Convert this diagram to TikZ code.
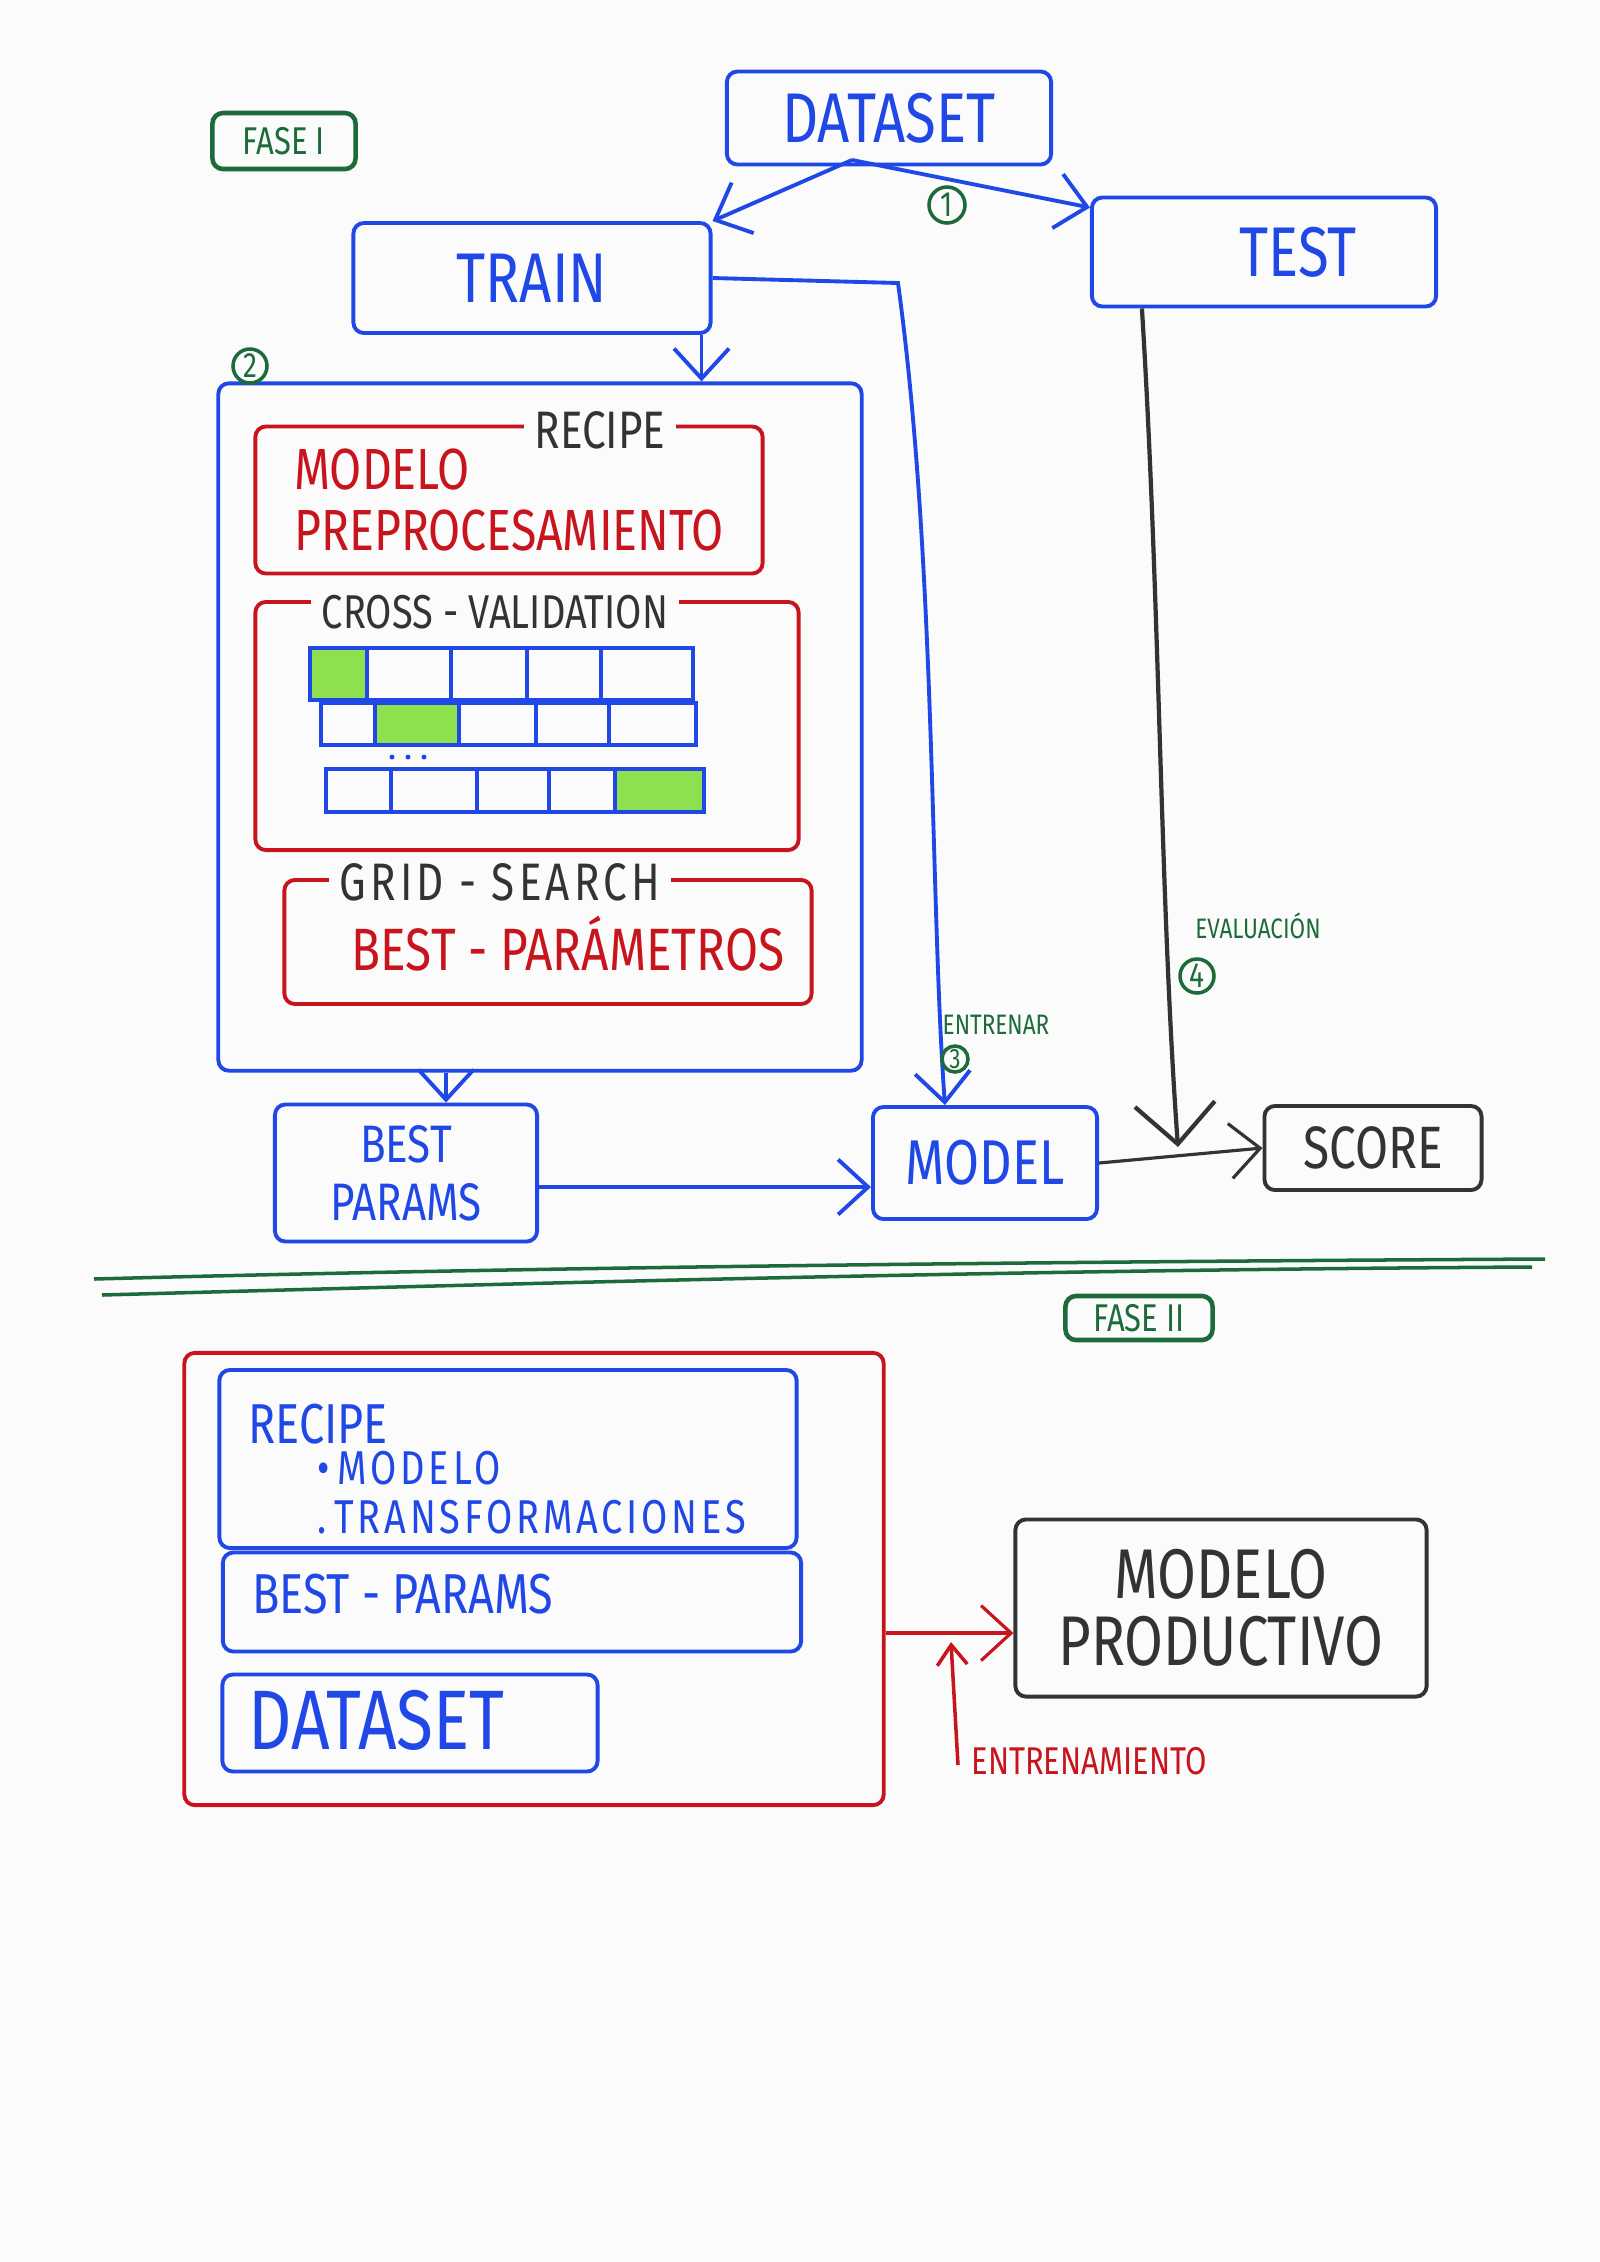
\documentclass[tikz,border=0pt]{standalone}
\usepackage{fontspec}
\setmainfont{Fira Sans}[FakeStretch=0.8]
\usetikzlibrary{arrows.meta}
\definecolor{bg}{HTML}{FBFBFB}
\definecolor{hblue}{HTML}{1F48E6}
\definecolor{hred}{HTML}{C8141C}
\definecolor{hgreen}{HTML}{1D6B3A}
\definecolor{hgray}{HTML}{333333}
\definecolor{hlime}{HTML}{8EE04E}
\newcommand\hfs[1]{\fontsize{#1}{#1}\selectfont}
\begin{document}
\begin{tikzpicture}[x=0.01cm,y=-0.01cm,
  box/.style={draw,line width=1.1pt,rounded corners=3pt,inner sep=0pt},
  bbox/.style={box,draw=hblue,text=hblue},
  rbox/.style={box,draw=hred,text=hred},
  kbox/.style={box,draw=hgray,text=hgray},
  gbox/.style={box,draw=hgreen,text=hgreen,line width=1.3pt},
  lbl/.style={fill=bg,inner sep=3pt},
  arr/.style={-{Straight Barb[length=3mm,width=5.5mm]},line width=1.1pt},
  bigarr/.style={-{Straight Barb[length=4mm,width=8mm]},line width=1.2pt},
  smallarr/.style={-{Straight Barb[length=2mm,width=3mm]},line width=1pt},
  num/.style={circle,draw=hgreen,text=hgreen,line width=1pt,inner sep=0pt},
  foldcell/.style={fill=hlime},
  fold/.style={draw=hblue,line width=1pt}
]
\fill[bg] (0,0) rectangle (1600,2262);

% ---------------- FASE I ----------------
\node[gbox,minimum width=1.43cm,minimum height=0.56cm,font=\hfs{11}] (fase1) at (284,141) {FASE I};

\node[bbox,minimum width=3.24cm,minimum height=0.93cm,font=\hfs{20}] (dataset) at (889,118) {DATASET};
\node[bbox,minimum width=3.57cm,minimum height=1.10cm,font=\hfs{20}] (train) at (532,278) {TRAIN};
\node[bbox,minimum width=3.44cm,minimum height=1.09cm,font=\hfs{20}] (test) at (1264,252) {\hspace*{0.68cm}TEST};

\coordinate (dsplit) at (852,160);
\draw[arr,hblue] (dsplit) -- (train.north east);
\draw[arr,hblue] (dsplit) -- ([yshift=-0.12cm]test.north west);
\node[num,minimum size=0.36cm,font=\hfs{10}] (n1) at (947,205) {1};

% stage 2 container
\node[bbox,minimum width=6.43cm,minimum height=6.87cm] (stage2) at (540,727) {};
\node[num,minimum size=0.34cm,font=\hfs{10}] (n2) at (250,366) {2};
\draw[arr,hblue] ([xshift=-0.11cm]train.south east) -- ([xshift=-0.11cm]train.south east |- stage2.north);

% recipe
\node[rbox,minimum width=5.07cm,minimum height=1.47cm,align=left,font=\fontsize{16.5}{17.5}\selectfont] (recipe) at (509,500) {MODELO\\PREPROCESAMIENTO};
\node[lbl,text=hgray,font=\hfs{15}] (recipelbl) at (600,430) {RECIPE};

% cross validation
\node[rbox,minimum width=5.43cm,minimum height=2.48cm] (cv) at (527,726) {};
\node[lbl,text=hgray,font=\hfs{13.5}] (cvlbl) at (495,612) {CROSS - VALIDATION};

\fill[foldcell] (312,650) rectangle (367,698);
\draw[fold] (310,648) rectangle (693,700);
\foreach \x in {367,451,527,601} \draw[fold] (\x,650) -- (\x,698);

\fill[foldcell] (375,705) rectangle (459,743);
\draw[fold] (321,703) rectangle (696,745);
\foreach \x in {375,459,536,609} \draw[fold] (\x,705) -- (\x,743);

\foreach \x in {392,408,424} \fill[hblue] (\x,757) circle (2.5);

\fill[foldcell] (615,771) rectangle (702,810);
\draw[fold] (326,769) rectangle (704,812);
\foreach \x in {391,477,549,615} \draw[fold] (\x,771) -- (\x,810);

% grid search
\node[rbox,minimum width=5.27cm,minimum height=1.24cm] (grid) at (548,942) {};
\node[lbl,text=hgray,font=\hfs{15}\addfontfeature{LetterSpace=8}] (gridlbl) at (500,882) {GRID - SEARCH};
\node[text=hred,font=\hfs{17}] (bestpar) at (568,944) {BEST - PARÁMETROS};

% results row
\node[bbox,minimum width=2.62cm,minimum height=1.37cm,align=center,font=\fontsize{15}{16.5}\selectfont] (bp) at (406,1173) {BEST\\PARAMS};
\node[bbox,minimum width=2.24cm,minimum height=1.12cm,font=\hfs{18}] (model) at (985,1163) {MODEL};
\node[kbox,minimum width=2.17cm,minimum height=0.84cm,font=\hfs{17}] (score) at (1373,1148) {SCORE};

\draw[arr,hblue] ([xshift=0.4cm]bp.north |- stage2.south) -- ([xshift=0.4cm]bp.north);
\draw[arr,hblue] ([yshift=-0.14cm]bp.east) -- ([yshift=-0.14cm]bp.east -| model.west);

\coordinate (bend1) at (898,283);
\draw[arr,hblue] (train.east) -- (bend1) .. controls (936,560) and (930,900) .. ([xshift=-0.4cm]model.north);
\node[text=hgreen,font=\hfs{8}] (entrenar) at (996,1025) {ENTRENAR};
\node[num,minimum size=0.26cm,font=\hfs{8}] (n3) at (955,1059) {3};

\coordinate (evaltip) at (1178,1147);
\draw[bigarr,hgray] ([xshift=-1.22cm]test.south) .. controls (1160,600) and (1160,900) .. (evaltip);
\node[text=hgreen,font=\hfs{8}] (evallbl) at (1258,926) {EVALUACIÓN};
\node[num,minimum size=0.34cm,font=\hfs{10}] (n4) at (1197,976) {4};

\draw[arr,hgray,line width=0.9pt] (model.east) -- (score.west);

% separator
\draw[hgreen,line width=1pt] (94,1279) .. controls (500,1268) and (1000,1262) .. (1545,1259);
\draw[hgreen,line width=1pt] (102,1295) .. controls (500,1284) and (1000,1270) .. (1532,1267);

% ---------------- FASE II ----------------
\node[gbox,minimum width=1.47cm,minimum height=0.44cm,font=\hfs{11}] (fase2) at (1139,1318) {FASE II};

\node[rbox,minimum width=6.99cm,minimum height=4.52cm] (p2) at (534,1579) {};
\node[bbox,minimum width=5.77cm,minimum height=1.78cm] (p2recipe) at (508,1459) {};
\node[anchor=west,text=hblue,font=\hfs{16}] (p2rt) at (236,1424) {RECIPE};
\node[anchor=west,text=hblue,font=\hfs{13.5}\addfontfeature{LetterSpace=8}] (p2m) at (305,1468) {•\,MODELO};
\node[anchor=west,text=hblue,font=\hfs{13.5}\addfontfeature{LetterSpace=8}] (p2t) at (305,1517) {.\,TRANSFORMACIONES};

\node[bbox,minimum width=5.78cm,minimum height=0.99cm] (p2bp) at (512,1602) {};
\node[anchor=west,text=hblue,font=\hfs{16}] (p2bpt) at (240,1594) {BEST - PARAMS};

\node[bbox,minimum width=3.75cm,minimum height=0.97cm] (p2ds) at (410,1723) {};
\node[anchor=west,text=hblue,font=\hfs{24}] (p2dst) at (236,1720) {DATASET};

\node[kbox,minimum width=4.11cm,minimum height=1.77cm,align=center,font=\fontsize{20}{19}\selectfont] (mp) at (1221,1608) {MODELO\\PRODUCTIVO};

\draw[arr,hred,line width=0.9pt] ([yshift=-0.54cm]p2.east) -- ([yshift=-0.54cm]p2.east -| mp.west);

\coordinate (entfoot) at (958,1765);
\coordinate (enttip) at (951,1642);
\draw[smallarr,hred] (entfoot) -- (enttip);
\node[text=hred,font=\hfs{11}] (entlbl) at (1089,1761) {ENTRENAMIENTO};
\end{tikzpicture}
\end{document}
